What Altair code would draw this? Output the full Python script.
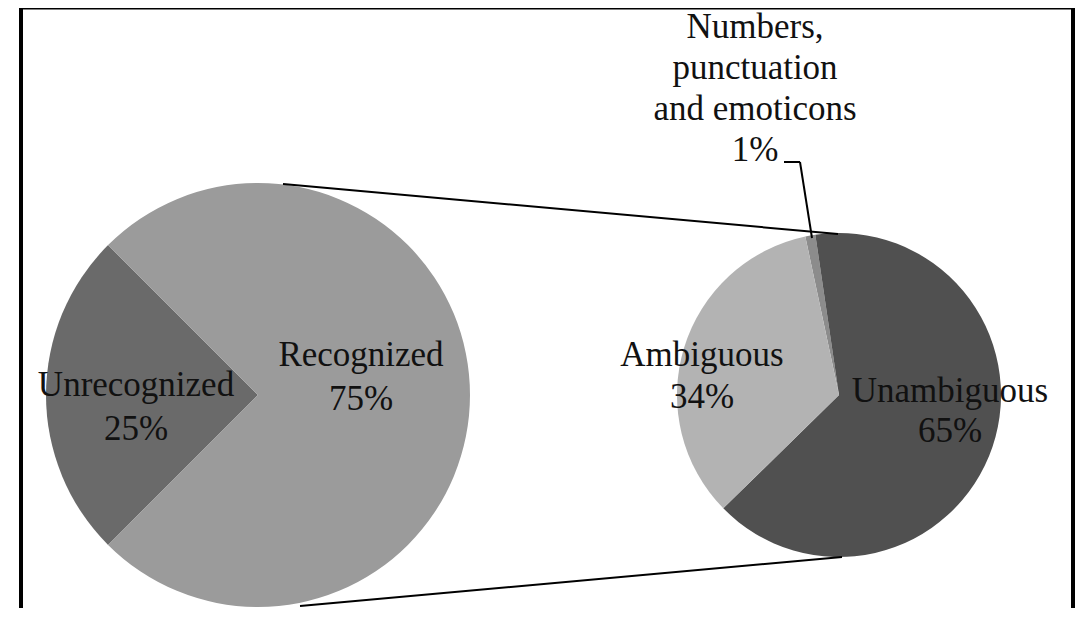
import math
import altair as alt
import pandas as pd

# ---- data ----
outer_labels = ["Unrecognized", "Recognized"]
outer_values = [25, 75]
inner_labels = ["Numbers,\npunctuation\nand emoticons", "Unambiguous", "Ambiguous"]
inner_values = [1, 65, 34]

# ---- styles ----
slice_colors = ["#6a6a6a", "#9b9b9b", "#8c8c8c", "#505050", "#b3b3b3"]
FONT = "Liberation Serif"
FS = 35
M = 8  # page margin; layout numbers below are in screenshot pixels


def p(v):
    return v - M


cscale = alt.Scale(domain=outer_labels + inner_labels, range=slice_colors)

outer_df = pd.DataFrame({"label": outer_labels, "value": outer_values,
                         "order": list(range(len(outer_labels)))})
inner_df = pd.DataFrame({"label": inner_labels, "value": inner_values,
                         "order": list(range(len(inner_labels)))})


def pie(df, cx, cy, r, start_deg):
    a = math.radians(start_deg)
    return alt.Chart(df).mark_arc(outerRadius=r, strokeWidth=0).encode(
        theta=alt.Theta("value:Q", stack=True,
                        scale=alt.Scale(range=[a, a + 2 * math.pi])),
        color=alt.Color("label:N", scale=cscale, legend=None),
        order=alt.Order("order:Q"),
        x=alt.value(p(cx)),
        y=alt.value(p(cy)),
    )


def label(text, x, y, lh=44):
    # y is the middle of the first line
    return alt.Chart(pd.DataFrame({"t": [text]})).mark_text(
        font=FONT, fontSize=FS, color="#111111", lineBreak="\n",
        lineHeight=lh, align="center", baseline="middle"
    ).encode(text="t:N", x=alt.value(p(x)), y=alt.value(p(y)))


def seg(x1, y1, x2, y2, w=2):
    return alt.Chart(pd.DataFrame({"a": [0]})).mark_rule(
        color="black", strokeWidth=w
    ).encode(x=alt.value(p(x1)), y=alt.value(p(y1)),
             x2=alt.value(p(x2)), y2=alt.value(p(y2)))


left = pie(outer_df, 258, 395, 212, 225)
right = pie(inner_df, 839, 395, 162, 348)

labels = [
    label(f"{outer_labels[0]}\n{outer_values[0]}%", 136, 385),
    label(f"{outer_labels[1]}\n{outer_values[1]}%", 361, 355),
    label(f"{inner_labels[2]}\n{inner_values[2]}%", 702, 355, 42),
    label(f"{inner_labels[1]}\n{inner_values[1]}%", 950, 391, 40),
    label(f"{inner_labels[0]}\n{inner_values[0]}%", 755, 27, 41),
]

lines = [
    seg(283, 184, 838, 234),
    seg(300, 606, 842, 557),
    seg(784, 162, 800, 162),
    seg(800, 162, 812, 238),
    seg(21, 8, 21, 608, 4),
    seg(1073, 8, 1073, 608, 4),
    seg(19, 8.75, 1075, 8.75, 1.5),
]

chart = alt.layer(left, right, *lines, *labels).resolve_scale(
    theta="independent"
).properties(
    width=1075, height=600, padding=0,
    autosize=alt.AutoSizeParams(type="none"),
).configure_view(stroke=None)

chart.save("out.html", embed_options={"renderer": "svg", "actions": False})
